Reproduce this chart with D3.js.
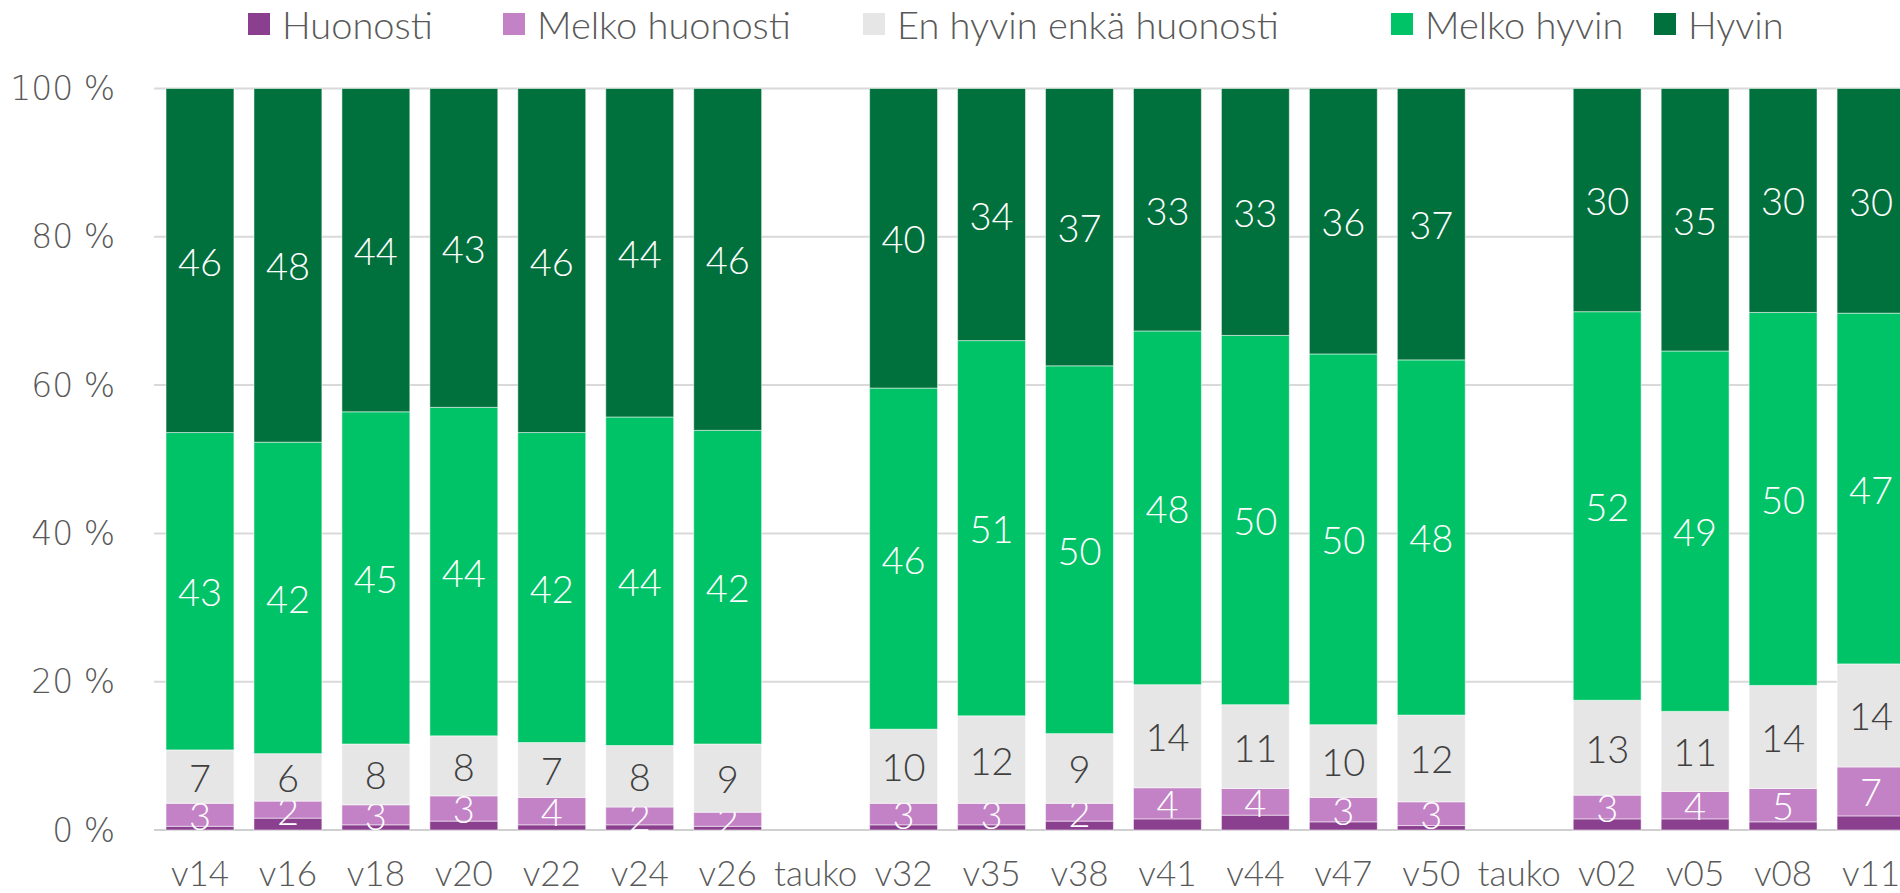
<!DOCTYPE html>
<html>
<head>
<meta charset="utf-8">
<script src="https://cdn.jsdelivr.net/npm/d3@7/dist/d3.min.js"></script>
<style>
  body { margin: 0; background: #fff; overflow: hidden; }
  svg { display: block; }
  .lbl { font-family: Lato, Carlito, "Open Sans", sans-serif; font-weight: 300; }
</style>
</head>
<body>
<svg id="chart" width="1900" height="893"></svg>
<script>
// viikot, "tauko" = tyhjä väli
var categories = ["v14", "v16", "v18", "v20", "v22", "v24", "v26", "tauko",
  "v32", "v35", "v38", "v41", "v44", "v47", "v50", "tauko2",
  "v02", "v05", "v08", "v11"];
var seriesNames = ["Huonosti", "Melko huonosti", "En hyvin enkä huonosti", "Melko hyvin", "Hyvin"];
var seriesColors = ["#8b3f8f", "#c382c6", "#e6e6e6", "#00c266", "#00703c"];
var labelColors = [null, "#ffffff", "#404040", "#ffffff", "#ffffff"];

var huonosti      = [0.5, 1.6, 0.7, 1.2, 0.7, 0.7, 0.5, 0, 0.7, 0.7, 1.2, 1.5, 2.0, 1.1, 0.6, 0, 1.5, 1.5, 1.1, 1.9];
var melkoHuonosti = [3.1, 2.3, 2.7, 3.4, 3.7, 2.4, 1.9, 0, 2.9, 2.9, 2.4, 4.2, 3.6, 3.3, 3.2, 0, 3.2, 3.7, 4.5, 6.6];
var enHyvin       = [7.2, 6.4, 8.2, 8.1, 7.4, 8.3, 9.2, 0, 10.0, 11.8, 9.4, 13.9, 11.3, 9.8, 11.7, 0, 12.8, 10.8, 13.9, 13.9];
var melkoHyvin    = [42.8, 42.0, 44.8, 44.3, 41.8, 44.3, 42.3, 0, 46.0, 50.6, 49.6, 47.7, 49.8, 50.0, 47.9, 0, 52.4, 48.6, 50.3, 47.3];
var hyvin         = [46.4, 47.7, 43.6, 43.0, 46.4, 44.3, 46.1, 0, 40.4, 34.0, 37.4, 32.7, 33.3, 35.8, 36.6, 0, 30.1, 35.4, 30.2, 30.3];
var yTicks = [0, 20, 40, 60, 80, 100];

var seriesValues = [huonosti, melkoHuonosti, enHyvin, melkoHyvin, hyvin];

var svg = d3.select("#chart");

var x = d3.scaleBand().domain(categories).range([156, 1915]).paddingInner(0.228).paddingOuter(0.114);
var y = d3.scaleLinear().domain([0, 100]).range([830, 88.5]);

// ruudukko
svg.append("g").selectAll("line").data(yTicks).join("line")
  .attr("x1", 154).attr("x2", 1900)
  .attr("y1", function(d) { return y(d); }).attr("y2", function(d) { return y(d); })
  .attr("stroke", function(d) { return d === 0 ? "#d0d0d0" : "#d9d9d9"; })
  .attr("stroke-width", 2);

// y-akseli
svg.append("g").selectAll("text").data(yTicks).join("text")
  .attr("x", 115).attr("y", function(d) { return y(d); })
  .attr("text-anchor", "end").attr("dominant-baseline", "central")
  .attr("font-family", "'DejaVu Sans', sans-serif").attr("font-weight", 200).attr("font-size", 33)
  .attr("fill", "#595959")
  .text(function(d) { return d + " %"; });

// pinotaan sarjat
var rows = categories.map(function(c, i) {
  var r = { cat: c };
  seriesNames.forEach(function(s, k) { r[s] = seriesValues[k][i]; });
  return r;
});
var stack = d3.stack().keys(seriesNames)(rows);

stack.forEach(function(layer, k) {
  var g = svg.append("g");
  g.selectAll("rect").data(layer).join("rect")
    .attr("x", function(d) { return x(d.data.cat); })
    .attr("width", x.bandwidth())
    .attr("y", function(d) { return y(d[1]); })
    .attr("height", function(d) { return y(d[0]) - y(d[1]); })
    .attr("fill", seriesColors[k])
    .attr("stroke", "#ffffff").attr("stroke-opacity", 0.5).attr("stroke-width", 1);

  if (labelColors[k]) {
    g.selectAll("text").data(layer.filter(function(d) { return d[1] - d[0] > 0; })).join("text")
      .attr("class", "lbl")
      .attr("x", function(d) { return x(d.data.cat) + x.bandwidth() / 2; })
      .attr("y", function(d) { return y((d[0] + d[1]) / 2); })
      .attr("text-anchor", "middle").attr("dominant-baseline", "central")
      .attr("font-size", 38)
      .attr("fill", labelColors[k])
      .text(function(d) { return Math.round(d[1] - d[0]); });
  }
});

// x-akseli
svg.append("g").selectAll("text").data(categories).join("text")
  .attr("class", "lbl")
  .attr("x", function(d) { return x(d) + x.bandwidth() / 2; })
  .attr("y", 872)
  .attr("text-anchor", "middle").attr("dominant-baseline", "central")
  .attr("font-size", 35).attr("fill", "#595959")
  .text(function(d) { return d.indexOf("tauko") === 0 ? "tauko" : d; });

// selite
var legendX = [248, 503, 863, 1391, 1654];
var leg = svg.append("g").selectAll("g").data(seriesNames).join("g")
  .attr("transform", function(d, i) { return "translate(" + legendX[i] + ",24)"; });
leg.append("rect").attr("x", 0).attr("y", -11).attr("width", 22).attr("height", 22)
  .attr("fill", function(d, i) { return seriesColors[i]; });
leg.append("text").attr("class", "lbl")
  .attr("x", 34).attr("y", 0).attr("dominant-baseline", "central")
  .attr("font-size", 38).attr("fill", "#595959")
  .text(function(d) { return d; });
</script>
</body>
</html>
